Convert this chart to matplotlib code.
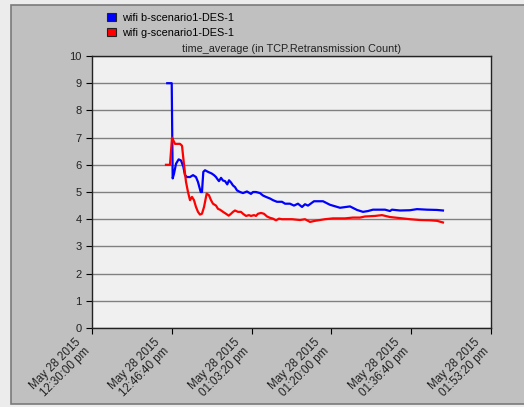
import matplotlib.pyplot as plt
from matplotlib.patches import Rectangle, Patch

plt.rcParams['font.family'] = ['Liberation Sans', 'DejaVu Sans']

# seconds after 12:30:00 pm
b_time = [943, 999, 1011, 1028, 1053, 1086, 1115, 1144, 1165, 1190, 1228, 1266,
          1303, 1328, 1362, 1378, 1395, 1416, 1454, 1500, 1529, 1554, 1570, 1591,
          1617, 1642, 1667, 1695, 1717, 1742, 1767, 1792, 1817, 1855, 1892, 1942,
          1992, 2018, 2055, 2105, 2143, 2180, 2231, 2268, 2318, 2381, 2419, 2481,
          2531, 2581, 2632, 2669, 2707, 2782, 2895, 2982, 3108, 3233, 3321, 3396,
          3459, 3521, 3584, 3672, 3734, 3759, 3860, 3985, 4073, 4198, 4323, 4398]
b_vals = [9.0, 9.0, 5.5, 5.68, 6.04, 6.2, 6.16, 5.94, 5.62, 5.55, 5.55, 5.62,
          5.55, 5.37, 5.0, 5.0, 5.74, 5.8, 5.74, 5.68, 5.62, 5.55, 5.48, 5.4,
          5.52, 5.42, 5.4, 5.28, 5.43, 5.35, 5.24, 5.18, 5.06, 5.0, 4.96, 5.02,
          4.93, 5.0, 5.0, 4.96, 4.87, 4.82, 4.76, 4.7, 4.64, 4.64, 4.57, 4.57,
          4.5, 4.57, 4.45, 4.55, 4.5, 4.66, 4.66, 4.53, 4.42, 4.47, 4.34, 4.27,
          4.3, 4.35, 4.35, 4.35, 4.3, 4.35, 4.32, 4.33, 4.37, 4.35, 4.34, 4.32]

g_time = [927, 977, 1003, 1019, 1040, 1103, 1128, 1153, 1178, 1203, 1228, 1253,
          1278, 1303, 1328, 1353, 1378, 1404, 1437, 1466, 1491, 1516, 1554, 1579,
          1604, 1642, 1679, 1713, 1742, 1767, 1792, 1830, 1867, 1892, 1930, 1967,
          1992, 2030, 2055, 2080, 2118, 2155, 2193, 2231, 2268, 2306, 2343, 2381,
          2444, 2506, 2607, 2669, 2732, 2794, 2857, 2920, 3020, 3170, 3271, 3358,
          3421, 3546, 3634, 3734, 3860, 3985, 4110, 4236, 4323, 4398]
g_vals = [6.0, 6.0, 7.0, 6.9, 6.77, 6.77, 6.7, 6.0, 5.37, 5.0, 4.7, 4.82,
          4.7, 4.45, 4.27, 4.17, 4.2, 4.45, 4.94, 4.88, 4.7, 4.57, 4.5, 4.38,
          4.35, 4.27, 4.2, 4.13, 4.2, 4.27, 4.32, 4.27, 4.27, 4.2, 4.12, 4.15,
          4.12, 4.15, 4.12, 4.2, 4.23, 4.2, 4.1, 4.05, 4.02, 3.96, 4.02, 4.0,
          4.0, 4.0, 3.97, 4.0, 3.9, 3.94, 3.97, 4.0, 4.03, 4.03, 4.06, 4.06,
          4.1, 4.12, 4.15, 4.08, 4.04, 4.0, 3.97, 3.96, 3.94, 3.88]

tick_pos = [0, 1000, 2000, 3000, 4000, 5000]
tick_labels = ['May 28 2015\n12:30:00 pm', 'May 28 2015\n12:46:40 pm',
               'May 28 2015\n01:03:20 pm', 'May 28 2015\n01:20:00 pm',
               'May 28 2015\n01:36:40 pm', 'May 28 2015\n01:53:20 pm']

fig = plt.figure(figsize=(5.24, 4.07), dpi=100, facecolor='#ececec')
# grey panel behind the chart
panel = Rectangle((11/524, 3/407), 1.0, 1 - 8/407, transform=fig.transFigure,
                  facecolor='#c0c0c0', edgecolor='#7a7a7a', lw=1.2, zorder=-10)
fig.patches.append(panel)

ax = fig.add_axes([92/524, 79/407, 399/524, 272/407], zorder=2)
ax.set_facecolor('#f0f0f0')

ax.plot(b_time, b_vals, color='#0000ff', lw=1.6, zorder=3)
ax.plot(g_time, g_vals, color='#ff0000', lw=1.6, zorder=3)

ax.set_xlim(0, 5000)
ax.set_ylim(0, 10)
ax.set_yticks(range(0, 11))
ax.set_xticks(tick_pos)
ax.set_xticklabels(tick_labels, rotation=45, ha='right', va='top',
                   fontsize=8.3, color='#222222', linespacing=1.1)
ax.tick_params(axis='y', labelsize=8, labelcolor='#222222', length=4, width=0.8)
ax.tick_params(axis='x', length=4, width=0.8, pad=2)
ax.grid(axis='y', color='#808080', lw=1.0)
ax.set_axisbelow(True)
for s in ax.spines.values():
    s.set_color('#222222')
    s.set_linewidth(1.0)

ax.set_title('time_average (in TCP.Retransmission Count)', fontsize=7.8,
             color='#222222', pad=3)

# legend at top left, small coloured squares
handles = [Patch(facecolor='#0000ff', edgecolor='#222222', lw=0.8, label='wifi b-scenario1-DES-1'),
           Patch(facecolor='#ff0000', edgecolor='#222222', lw=0.8, label='wifi g-scenario1-DES-1')]
fig.legend(handles=handles, loc='upper left', bbox_to_anchor=(107/524, 1 - 13/407),
           frameon=False, fontsize=7.8, handlelength=0.85, handleheight=0.7,
           handletextpad=0.5, labelspacing=0.45, borderaxespad=0, borderpad=0)

fig.savefig('out.png', dpi=100, facecolor=fig.get_facecolor())
